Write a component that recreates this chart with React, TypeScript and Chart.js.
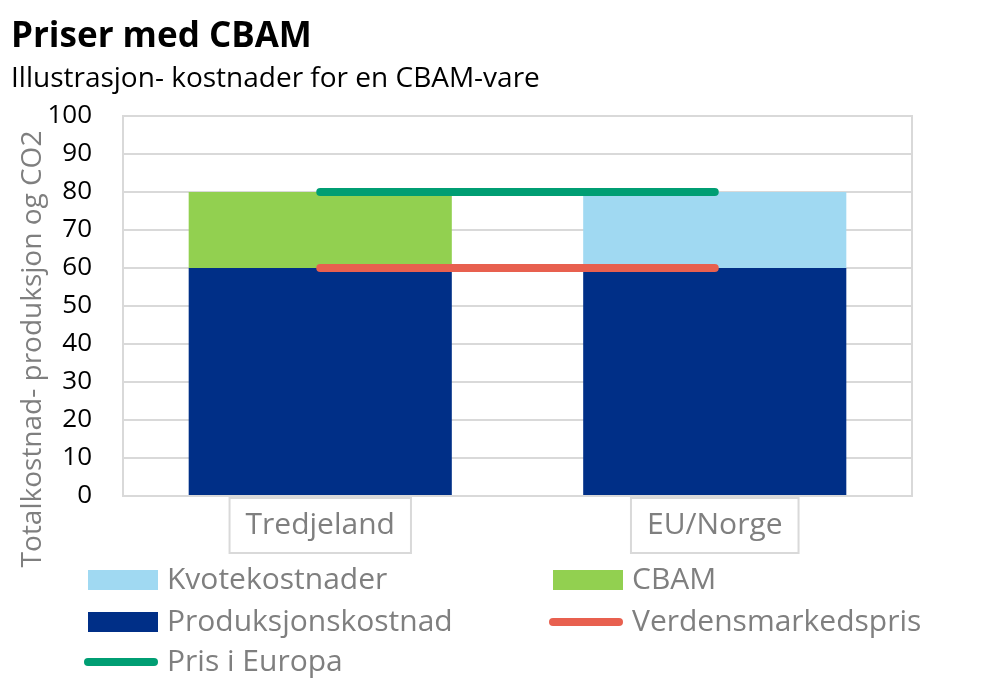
import React, { useEffect, useRef } from "react";
import { Chart, registerables } from "chart.js";

Chart.register(...registerables);

// ---- data ----
const title = "Priser med CBAM";
const subtitle = "Illustrasjon- kostnader for en CBAM-vare";
const yAxisTitle = "Totalkostnad- produksjon og CO2";
const categories = ["Tredjeland", "EU/Norge"];
const produksjonskostnad = [60, 60];
const cbam: (number | null)[] = [20, null];
const kvotekostnader: (number | null)[] = [null, 20];
const verdensmarkedspris = [60, 60];
const prisIEuropa = [80, 80];
const yMin = 0;
const yMax = 100;
const yStep = 10;
const legendOrder = ["Kvotekostnader", "CBAM", "Produksjonskostnad", "Verdensmarkedspris", "Pris i Europa"];

const FONT = "'Open Sans', 'Noto Sans', sans-serif";
const GRID = "#D9D9D9";
const GREY_TEXT = "#7F7F7F";

const chromePlugin = {
  id: "chrome",
  beforeDraw(chart: any) {
    const ctx = chart.ctx;
    ctx.save();
    ctx.fillStyle = "#fff";
    ctx.fillRect(0, 0, chart.width, chart.height);
    ctx.fillStyle = "#000";
    ctx.textAlign = "left";
    ctx.textBaseline = "alphabetic";
    ctx.font = `bold 35px ${FONT}`;
    ctx.fillText(title, 11, 47);
    ctx.font = `28px ${FONT}`;
    ctx.fillText(subtitle, 11, 87);
    // y axis title
    ctx.translate(33, 349);
    ctx.rotate(-Math.PI / 2);
    ctx.fillStyle = GREY_TEXT;
    ctx.font = `28px ${FONT}`;
    ctx.textAlign = "center";
    ctx.textBaseline = "middle";
    ctx.fillText(yAxisTitle, 0, 0);
    ctx.restore();
  },
  beforeDatasetsDraw(chart: any) {
    const { ctx, chartArea: a } = chart;
    ctx.save();
    ctx.strokeStyle = GRID;
    ctx.lineWidth = 2;
    ctx.strokeRect(a.left, a.top, a.right - a.left, a.bottom - a.top);
    ctx.restore();
  },
  afterDraw(chart: any) {
    const { ctx, chartArea: a } = chart;
    const xs = chart.scales.x;
    ctx.save();
    // category label boxes
    ctx.font = `30px ${FONT}`;
    ctx.textAlign = "center";
    ctx.textBaseline = "middle";
    (chart.data.labels as string[]).forEach((lab, i) => {
      const cx = xs.getPixelForValue(i);
      const w = ctx.measureText(lab).width + 32;
      const top = a.bottom + 2;
      const h = 55;
      ctx.fillStyle = "#fff";
      ctx.fillRect(cx - w / 2, top, w, h);
      ctx.strokeStyle = GRID;
      ctx.lineWidth = 2;
      ctx.strokeRect(cx - w / 2, top, w, h);
      ctx.fillStyle = GREY_TEXT;
      ctx.fillText(lab, cx, top + h / 2);
    });
    // legend
    const colX = [88, 553];
    const rowY = [580, 622, 662];
    ctx.font = `30px ${FONT}`;
    ctx.textAlign = "left";
    ctx.textBaseline = "middle";
    legendOrder.forEach((label, k) => {
      const ds = chart.data.datasets.find((d: any) => d.label === label);
      if (!ds) return;
      const x = colX[k % 2];
      const y = rowY[Math.floor(k / 2)];
      if (ds.type === "line") {
        ctx.strokeStyle = ds.borderColor;
        ctx.lineWidth = 8;
        ctx.lineCap = "round";
        ctx.beginPath();
        ctx.moveTo(x, y);
        ctx.lineTo(x + 66, y);
        ctx.stroke();
      } else {
        ctx.fillStyle = ds.backgroundColor;
        ctx.fillRect(x, y - 10, 70, 20);
      }
      ctx.fillStyle = GREY_TEXT;
      ctx.fillText(label, x + 79, y);
    });
    ctx.restore();
  },
};

export default function App() {
  const ref = useRef<HTMLCanvasElement>(null);
  useEffect(() => {
    if (!ref.current) return;
    const chart = new Chart(ref.current, {
      type: "bar",
      data: {
        labels: categories,
        datasets: [
          {
            type: "line",
            label: "Pris i Europa",
            data: prisIEuropa,
            borderColor: "#009E73",
            backgroundColor: "#009E73",
            borderWidth: 8,
            borderCapStyle: "round",
            pointRadius: 0,
            stack: "l1",
            order: -2,
          } as any,
          {
            type: "line",
            label: "Verdensmarkedspris",
            data: verdensmarkedspris,
            borderColor: "#E8604F",
            backgroundColor: "#E8604F",
            borderWidth: 8,
            borderCapStyle: "round",
            pointRadius: 0,
            stack: "l2",
            order: -1,
          } as any,
          {
            type: "bar",
            label: "Produksjonskostnad",
            data: produksjonskostnad,
            backgroundColor: "#002F87",
            stack: "bars",
          },
          {
            type: "bar",
            label: "CBAM",
            data: cbam,
            backgroundColor: "#92D050",
            stack: "bars",
          },
          {
            type: "bar",
            label: "Kvotekostnader",
            data: kvotekostnader,
            backgroundColor: "#A0D9F2",
            stack: "bars",
          },
        ],
      },
      options: {
        responsive: false,
        animation: false,
        events: [],
        layout: { padding: { left: 0, top: 116, right: 77, bottom: 0 } },
        datasets: { bar: { categoryPercentage: 1, barPercentage: 0.667 } },
        plugins: { legend: { display: false }, tooltip: { enabled: false }, title: { display: false } },
        scales: {
          x: {
            stacked: true,
            grid: { display: false },
            border: { display: false },
            ticks: { display: false },
            afterFit: (s: any) => {
              s.height = 190;
            },
          },
          y: {
            stacked: true,
            min: yMin,
            max: yMax,
            grid: { color: GRID, lineWidth: 2, drawTicks: false },
            border: { display: true, color: GRID, width: 2 },
            ticks: { stepSize: yStep, padding: 31, color: "#000", font: { family: FONT, size: 26 } },
            afterFit: (s: any) => {
              s.width = 123;
            },
          },
        },
      },
      plugins: [chromePlugin],
    });
    return () => chart.destroy();
  }, []);
  return (
    <div style={{ position: "absolute", left: 0, top: 0, width: 989, height: 686 }}>
      <canvas ref={ref} width={989} height={686} style={{ display: "block" }} />
    </div>
  );
}
